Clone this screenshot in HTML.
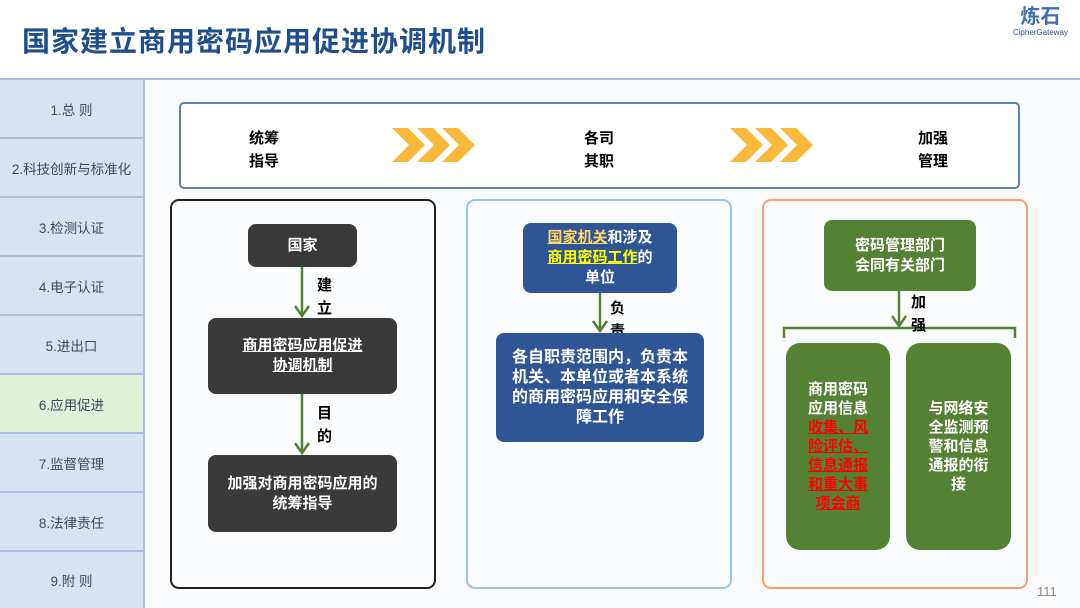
<!DOCTYPE html>
<html><head><meta charset="utf-8"><style>
*{margin:0;padding:0;box-sizing:border-box}
body{width:1080px;height:608px;position:relative;background:#fff;font-family:"Liberation Sans","Noto Sans CJK SC",sans-serif;overflow:hidden}
.a{position:absolute}
.title{left:22px;top:20px;font-size:28px;font-weight:bold;color:#1f4e8c;letter-spacing:1px}
.side{left:0;width:145px;height:59px;background:#d9e2f3;border-bottom:2px solid #a9bfe0;border-right:2px solid #a9bfe0;display:flex;align-items:center;justify-content:center;font-size:13.5px;color:#3b4a63}
.box{display:flex;align-items:center;justify-content:center;text-align:center;color:#fff;font-weight:bold;font-size:15px;line-height:20px;border-radius:8px}
.lbl{font-weight:bold;font-size:15px;line-height:23px;color:#000}
</style></head><body>
<div class="a title">国家建立商用密码应用促进协调机制</div>
<div class="a" style="right:12px;top:6px;text-align:center;color:#3f6fb0">
<div style="font-size:20px;font-weight:bold;line-height:22px">炼石</div>
<div style="font-size:8px;color:#2d4f8a">CipherGateway</div></div>
<div class="a" style="left:0;top:78px;width:1080px;height:530px;background:#fafbfd;border-top:2px solid #a9bfe0"></div>
<div class="a side" style="top:80px">1.总 则</div>
<div class="a side" style="top:139px">2.科技创新与标准化</div>
<div class="a side" style="top:198px">3.检测认证</div>
<div class="a side" style="top:257px">4.电子认证</div>
<div class="a side" style="top:316px">5.进出口</div>
<div class="a side" style="top:375px;background:#e2efd9">6.应用促进</div>
<div class="a side" style="top:434px">7.监督管理</div>
<div class="a side" style="top:493px">8.法律责任</div>
<div class="a side" style="top:552px;height:56px;border-bottom:none">9.附 则</div>

<div class="a" style="left:179px;top:102px;width:841px;height:87px;border:2px solid #5a7fb0;border-radius:5px;background:#fff"></div>
<div class="a lbl" style="left:249px;top:127px">统筹<br>指导</div>
<div class="a lbl" style="left:584px;top:127px">各司<br>其职</div>
<div class="a lbl" style="left:918px;top:127px">加强<br>管理</div>
<svg class="a" style="left:0;top:0" width="1080" height="608">
<g fill="#f9b83a">
<polygon points="392,128 408,128 425,145 408,162 392,162 409,145"/>
<polygon points="417,128 433,128 450,145 433,162 417,162 434,145"/>
<polygon points="442,128 458,128 475,145 458,162 442,162 459,145"/>
<polygon points="730,128 746,128 763,145 746,162 730,162 747,145"/>
<polygon points="755,128 771,128 788,145 771,162 755,162 772,145"/>
<polygon points="780,128 796,128 813,145 796,162 780,162 797,145"/>
</g>
<g stroke="#548235" stroke-width="2.5" fill="none">
<line x1="302" y1="267" x2="302" y2="316"/><polyline points="295,306 302,316 309,306"/>
<line x1="302" y1="394" x2="302" y2="453"/><polyline points="295,443 302,453 309,443"/>
<line x1="600" y1="293" x2="600" y2="331"/><polyline points="593,321 600,331 607,321"/>
<line x1="899" y1="291" x2="899" y2="326"/><polyline points="892,316 899,326 906,316"/>
<polyline points="784,338 784,328 1015,328 1015,338"/>
</g>
</svg>
<div class="a" style="left:170px;top:199px;width:266px;height:390px;border:2px solid #222;border-radius:9px"></div>
<div class="a" style="left:466px;top:199px;width:266px;height:390px;border:2px solid #9dc3e6;border-radius:9px"></div>
<div class="a" style="left:762px;top:199px;width:266px;height:390px;border:2px solid #f4a26a;border-radius:9px"></div>

<div class="a box" style="left:248px;top:224px;width:109px;height:43px;background:#3a3a3a">国家</div>
<div class="a lbl" style="left:317px;top:274px">建<br>立</div>
<div class="a box" style="left:208px;top:318px;width:189px;height:76px;background:#3a3a3a"><span style="text-decoration:underline">商用密码应用促进<br>协调机制</span></div>
<div class="a lbl" style="left:317px;top:402px">目<br>的</div>
<div class="a box" style="left:208px;top:455px;width:189px;height:77px;background:#3a3a3a">加强对商用密码应用的<br>统筹指导</div>

<div class="a box" style="left:523px;top:223px;width:154px;height:70px;background:#2f5597"><div><span style="color:#ffd966;text-decoration:underline">国家机关</span>和涉及<br><span style="color:#ffff00;text-decoration:underline">商用密码工作</span>的<br>单位</div></div>
<div class="a lbl" style="left:610px;top:297px">负<br>责</div>
<div class="a box" style="left:496px;top:333px;width:208px;height:109px;background:#2f5597;font-size:16px">各自职责范围内，负责本<br>机关、本单位或者本系统<br>的商用密码应用和安全保<br>障工作</div>

<div class="a box" style="left:824px;top:220px;width:152px;height:71px;background:#548235">密码管理部门<br>会同有关部门</div>
<div class="a lbl" style="left:911px;top:291px">加<br>强</div>
<div class="a box" style="left:786px;top:343px;width:104px;height:207px;background:#548235;border-radius:14px;line-height:19px"><div>商用密码<br>应用信息<br><span style="color:#ff0000;text-decoration:underline">收集、风<br>险评估、<br>信息通报<br>和重大事<br>项会商</span></div></div>
<div class="a box" style="left:906px;top:343px;width:105px;height:207px;background:#548235;border-radius:14px;line-height:19px">与网络安<br>全监测预<br>警和信息<br>通报的衔<br>接</div>
<div class="a" style="left:1037px;top:584px;font-size:13px;color:#888">111</div>
</body></html>
